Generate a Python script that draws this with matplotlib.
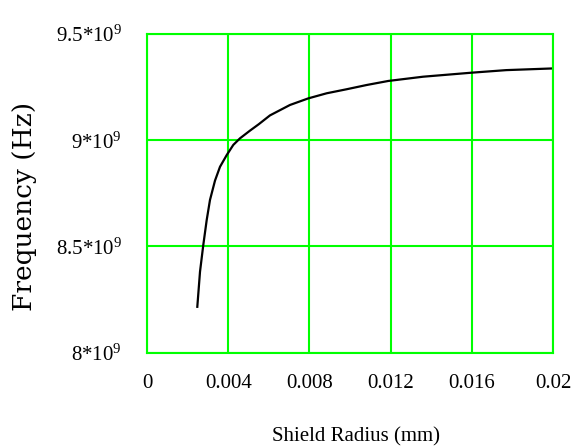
import matplotlib
matplotlib.use("Agg")
import matplotlib.pyplot as plt

# Data
radius = [0.002478, 0.002611, 0.002773, 0.002941, 0.003103, 0.00335, 0.003596, 0.003926,
          0.004251, 0.004581, 0.00507, 0.0055, 0.006059, 0.007044, 0.007946, 0.008852,
          0.009837, 0.010823, 0.011887, 0.0136, 0.016, 0.0177, 0.02]
freq = [8.216e9, 8.381e9, 8.507e9, 8.6245e9, 8.719e9, 8.810e9, 8.875e9, 8.930e9,
        8.978e9, 9.009e9, 9.045e9, 9.075e9, 9.117e9, 9.166e9, 9.197e9, 9.221e9,
        9.240e9, 9.260e9, 9.279e9, 9.299e9, 9.318e9, 9.330e9, 9.338e9]

x_ticks = [0, 0.004, 0.008, 0.012, 0.016, 0.02]
x_tick_labels = ["0", "0.004", "0.008", "0.012", "0.016", "0.02"]
y_ticks = [8e9, 8.5e9, 9e9, 9.5e9]
y_tick_labels = ["8*10$^{9}$", "8.5*10$^{9}$", "9*10$^{9}$", "9.5*10$^{9}$"]

plt.rcParams['mathtext.fontset'] = 'custom'
plt.rcParams['mathtext.rm'] = 'Liberation Serif'
plt.rcParams['mathtext.it'] = 'Liberation Serif'
plt.rcParams['font.family'] = ['Liberation Serif', 'DejaVu Serif']

green = '#00ff00'
fig = plt.figure(figsize=(5.76, 4.47), dpi=100)
ax = fig.add_axes([147/576, 1-352.7/447, (553-147)/576, (352.7-34)/447])

ax.plot(radius, freq, color='black', lw=1.6)
ax.set_xlim(0, 0.02)
ax.set_ylim(8e9, 9.5e9)
ax.set_xticks(x_ticks)
ax.set_xticklabels(x_tick_labels)
ax.set_yticks(y_ticks)
ax.set_yticklabels(y_tick_labels)
ax.grid(True, color=green, lw=1.5)
for s in ax.spines.values():
    s.set_color(green)
    s.set_linewidth(1.5)
ax.tick_params(axis='both', length=0, labelsize=15)
ax.tick_params(axis='x', pad=15)
ax.tick_params(axis='y', pad=18)

fig.text(25/576, 1-206/447, "Frequency (Hz)", rotation=90, ha='center', va='center',
         family='DejaVu Serif', fontsize=19)
fig.text(356/576, 1-437/447, "Shield Radius (mm)", ha='center', va='center', fontsize=15)

fig.savefig("out.png", dpi=100)
